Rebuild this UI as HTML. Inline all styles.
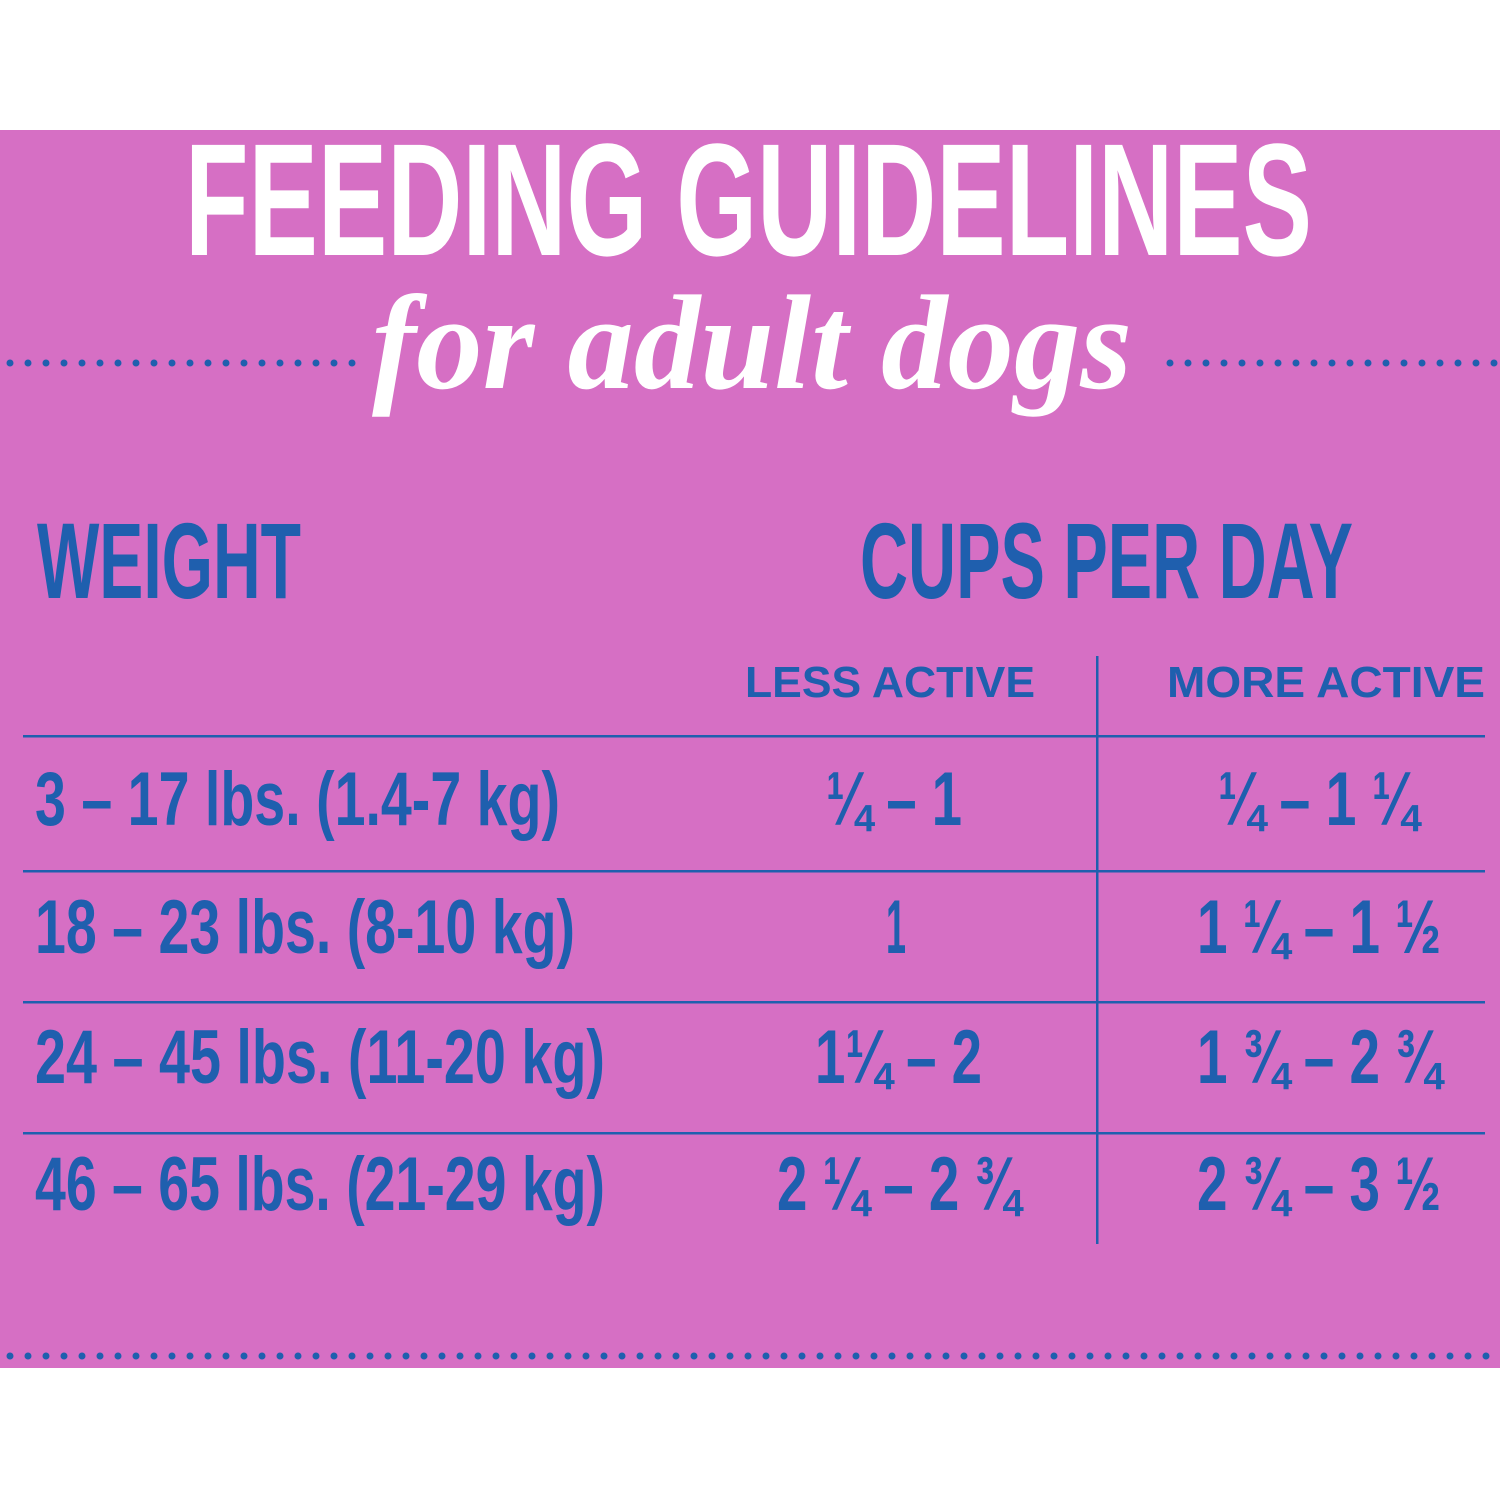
<!DOCTYPE html>
<html><head><meta charset="utf-8"><style>
html,body{margin:0;padding:0;background:#fff}
svg{display:block}
text{font-family:"Liberation Sans Narrow","Liberation Sans",sans-serif;font-weight:bold}
</style></head><body>
<svg width="1500" height="1500" viewBox="0 0 1500 1500" xmlns="http://www.w3.org/2000/svg">
<rect x="0" y="130" width="1500" height="1238" fill="#d66fc4"/>
<text x="185" y="255" font-size="160" fill="#fff" textLength="1127" lengthAdjust="spacingAndGlyphs">FEEDING GUIDELINES</text>
<g stroke="#1f5fae" stroke-width="7" stroke-linecap="round" stroke-dasharray="0 18">
<line x1="10" y1="363" x2="356" y2="363"/>
<line x1="1170" y1="363" x2="1500" y2="363"/>
<line x1="10" y1="1356" x2="1500" y2="1356"/>
</g>
<text x="372" y="388" font-size="135" fill="#fff" style="font-family:'Liberation Serif',serif;font-style:italic;font-weight:bold" textLength="760" lengthAdjust="spacingAndGlyphs">for adult dogs</text>
<g fill="#1f5fae">
<text x="37" y="598" font-size="108" textLength="264" lengthAdjust="spacingAndGlyphs">WEIGHT</text>
<text x="860" y="598" font-size="108" textLength="493" lengthAdjust="spacingAndGlyphs">CUPS PER DAY</text>
<text x="745" y="697" font-size="44" style="font-family:'Liberation Sans',sans-serif" textLength="290" lengthAdjust="spacingAndGlyphs">LESS ACTIVE</text>
<text x="1167" y="697" font-size="44" style="font-family:'Liberation Sans',sans-serif" textLength="318" lengthAdjust="spacingAndGlyphs">MORE ACTIVE</text>
<text x="35" y="825" font-size="76" textLength="525" lengthAdjust="spacingAndGlyphs">3 – 17 lbs. (1.4-7 kg)</text>
<text x="35" y="953" font-size="76" textLength="540" lengthAdjust="spacingAndGlyphs">18 – 23 lbs. (8-10 kg)</text>
<text x="35" y="1083" font-size="76" textLength="570" lengthAdjust="spacingAndGlyphs">24 – 45 lbs. (11-20 kg)</text>
<text x="35" y="1210" font-size="76" textLength="570" lengthAdjust="spacingAndGlyphs">46 – 65 lbs. (21-29 kg)</text>
<g font-size="76">
<text x="826" y="825" textLength="136" lengthAdjust="spacingAndGlyphs">¼ – 1</text>
<text x="886" y="953" textLength="20" lengthAdjust="spacingAndGlyphs">1</text>
<text x="815" y="1083" textLength="167" lengthAdjust="spacingAndGlyphs">1¼ – 2</text>
<text x="777" y="1210" textLength="243" lengthAdjust="spacingAndGlyphs">2 ¼ – 2 ¾</text>
<text x="1218" y="825" textLength="200" lengthAdjust="spacingAndGlyphs">¼ – 1 ¼</text>
<text x="1197" y="953" textLength="244" lengthAdjust="spacingAndGlyphs">1 ¼ – 1 ½</text>
<text x="1197" y="1083" textLength="244" lengthAdjust="spacingAndGlyphs">1 ¾ – 2 ¾</text>
<text x="1197" y="1210" textLength="244" lengthAdjust="spacingAndGlyphs">2 ¾ – 3 ½</text>
</g>
<rect x="23" y="735" width="1462" height="2.5"/>
<rect x="23" y="870" width="1462" height="2.5"/>
<rect x="23" y="1001" width="1462" height="2.5"/>
<rect x="23" y="1132" width="1462" height="2.5"/>
<rect x="1096" y="656" width="2.5" height="588"/>
</g>
</svg>
</body></html>
